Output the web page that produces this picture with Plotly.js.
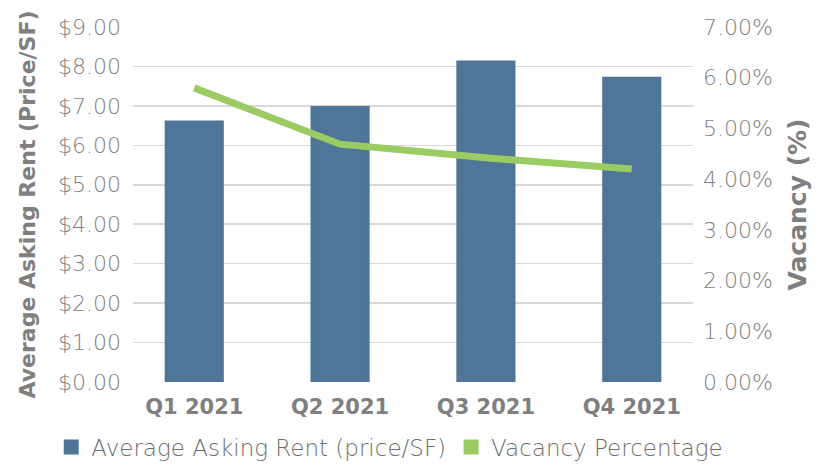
<!DOCTYPE html>
<html>
<head>
<meta charset="utf-8">
<script src="https://cdn.plot.ly/plotly-3.0.1.min.js"></script>
<style>html,body{margin:0;padding:0;background:#fff;}#chart{width:819px;height:465px;}</style>
</head>
<body>
<div id="chart"></div>
<script>
const quarters = ["Q1 2021", "Q2 2021", "Q3 2021", "Q4 2021"];
const askingRent = [6.59, 6.96, 8.11, 7.70];
const vacancyPct = [5.80, 4.69, 4.42, 4.20];
const rentTicks = [0, 1, 2, 3, 4, 5, 6, 7, 8, 9];
const vacTicks = [0, 1, 2, 3, 4, 5, 6, 7];

const gray = "#7f7f7f";
const fontFam = "DejaVu Sans, sans-serif";
const blue = "#4F7599";
const green = "#9BCB63";

const traces = [
  {
    type: "bar", x: quarters, y: askingRent, name: "Average Asking Rent (price/SF)",
    marker: {color: blue, line: {color: blue, width: 3}}, width: 0.385, yaxis: "y", hoverinfo: "y"
  },
  {
    type: "scatter", mode: "lines", x: quarters, y: vacancyPct, name: "Vacancy Percentage",
    line: {color: green, width: 7}, yaxis: "y2", showlegend: false
  },
  {
    type: "bar", x: quarters, y: quarters.map(() => null), name: "Vacancy Percentage",
    marker: {color: green, line: {color: green, width: 3}}, yaxis: "y2", hoverinfo: "skip"
  }
];

const layout = {
  width: 819, height: 465,
  margin: {l: 133, r: 126, t: 27, b: 83, autoexpand: false},
  paper_bgcolor: "#fff", plot_bgcolor: "#fff",
  barmode: "overlay",
  font: {family: fontFam, color: gray},
  xaxis: {
    type: "category", range: [-0.42, 3.42], showgrid: false, zeroline: false,
    showline: false, ticks: "",
    tickfont: {size: 21, color: gray, weight: "bold"}, ticklabelstandoff: 10
  },
  yaxis: {
    range: [0, 9], tickvals: rentTicks, ticktext: rentTicks.map(v => "$" + v.toFixed(2)),
    showgrid: true, gridcolor: "#d9d9d9", gridwidth: 1.5, zeroline: false, showline: false,
    ticks: "", tickfont: {size: 22, color: gray, weight: 200}, ticklabelstandoff: 11,
    title: {text: "Average Asking Rent (Price/SF)", font: {size: 22, color: gray, weight: "bold"}, standoff: 16}
  },
  yaxis2: {
    range: [0, 7], tickvals: vacTicks, ticktext: vacTicks.map(v => v.toFixed(2) + "%"),
    overlaying: "y", side: "right", showgrid: false, zeroline: false, showline: false,
    ticks: "", tickfont: {size: 22, color: gray, weight: 200}, ticklabelstandoff: 9,
    title: {text: "Vacancy (%)", font: {size: 25, color: gray, weight: "bold"}, standoff: 16}
  },
  showlegend: true,
  legend: {
    orientation: "h", xref: "paper", x: -0.146, xanchor: "left",
    yref: "paper", y: -0.183, yanchor: "middle", bgcolor: "rgba(0,0,0,0)",
    font: {size: 23, color: "#6e6e6e", weight: 200}, traceorder: "normal", itemwidth: 30
  }
};

Plotly.newPlot("chart", traces, layout, {displayModeBar: false, staticPlot: true});
</script>
</body>
</html>
